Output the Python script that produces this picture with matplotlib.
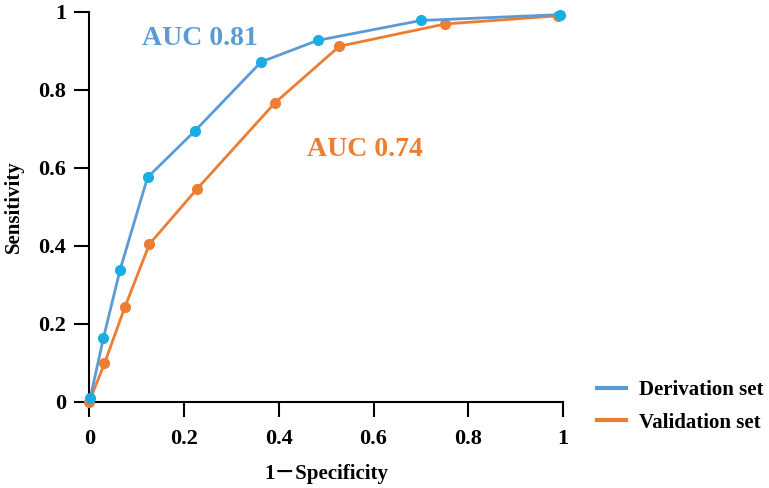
import matplotlib.pyplot as plt

plt.rcParams['font.family'] = ['Liberation Serif', 'DejaVu Serif']
plt.rcParams['font.weight'] = 'bold'

# ROC points
deriv_fpr = [0.002, 0.030, 0.065, 0.123, 0.223, 0.363, 0.482, 0.700, 0.993]
deriv_tpr = [0.009, 0.164, 0.338, 0.575, 0.694, 0.871, 0.926, 0.977, 0.992]
valid_fpr = [0.000, 0.032, 0.075, 0.127, 0.228, 0.392, 0.528, 0.751, 0.990]
valid_tpr = [0.000, 0.098, 0.242, 0.404, 0.546, 0.766, 0.911, 0.968, 0.989]
ticks = [0, 0.2, 0.4, 0.6, 0.8, 1]
tick_labels = ['0', '0.2', '0.4', '0.6', '0.8', '1']

blue = '#5B9BD5'
blue_dot = '#1AADE4'
orange = '#ED7D31'

fig = plt.figure(figsize=(7.69, 4.88), dpi=100)
ax = fig.add_axes([0.1161, 0.1768, 0.6160, 0.7996])

ax.plot(valid_fpr, valid_tpr, color=orange, lw=2, marker='o', ms=7,
        mfc=orange, mec=orange, clip_on=False, zorder=3, label='Validation set')
ax.plot(deriv_fpr, deriv_tpr, color=blue, lw=2, marker='o', ms=7,
        mfc=blue_dot, mec=blue_dot, clip_on=False, zorder=4, label='Derivation set')

ax.text(0.234, 0.93, 'AUC 0.81', color=blue, fontsize=20, ha='center', va='center',
        fontweight='bold')
ax.text(0.582, 0.646, 'AUC 0.74', color=orange, fontsize=20, ha='center', va='center',
        fontweight='bold')

ax.set_xlim(0, 1)
ax.set_ylim(0, 1)
ax.set_xticks(ticks)
ax.set_xticklabels(tick_labels)
ax.set_yticks(ticks)
ax.set_yticklabels(tick_labels)
ax.spines['top'].set_visible(False)
ax.spines['right'].set_visible(False)
for s in ['left', 'bottom']:
    ax.spines[s].set_linewidth(1.5)
ax.tick_params(axis='both', direction='out', length=10.8, width=1.5, labelsize=16)
ax.tick_params(axis='x', pad=9)
ax.tick_params(axis='y', pad=6)

ax.set_xlabel('1\uff0dSpecificity', fontsize=15, fontweight='bold', labelpad=11,
              family=['Liberation Serif', 'Noto Sans CJK SC'])
ax.set_ylabel('Sensitivity', fontsize=15, fontweight='bold', labelpad=10)

h, l = ax.get_legend_handles_labels()
leg = ax.legend(h[::-1], l[::-1], loc='upper left', bbox_to_anchor=(1.072, 0.055),
                frameon=False, fontsize=15, handlelength=1.4, handletextpad=0.6,
                labelspacing=0.6, borderpad=0, borderaxespad=0)
for line in leg.get_lines():
    line.set_linewidth(3)
    line.set_marker('')

fig.savefig('out.png', dpi=100)
